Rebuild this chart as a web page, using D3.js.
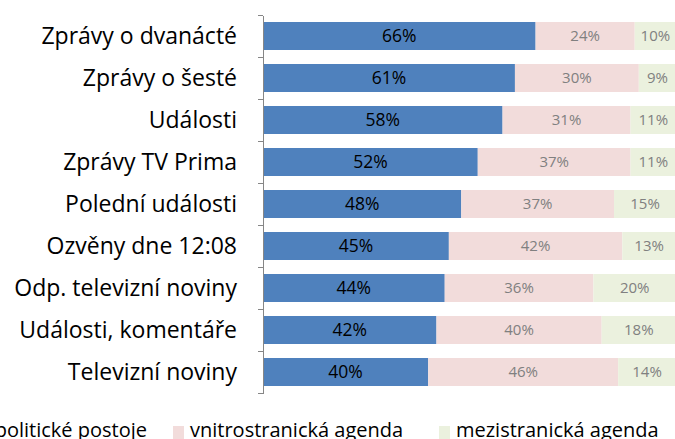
<!DOCTYPE html>
<html>
<head>
  <meta charset="utf-8">
  <script src="https://d3js.org/d3.v7.min.js"></script>
  <style>
    body { margin: 0; background: #fff; }
    svg { display: block; font-family: "Open Sans", sans-serif; }
    .axis path, .axis line { stroke: #868686; stroke-width: 1px; shape-rendering: crispEdges; }
  </style>
</head>
<body>
<div id="chart"></div>
<script>
// categories top to bottom
var categories = ["Zprávy o dvanácté", "Zprávy o šesté", "Události", "Zprávy TV Prima",
  "Polední události", "Ozvěny dne 12:08", "Odp. televizní noviny", "Události, komentáře", "Televizní noviny"];
var politicke = [66, 61, 58, 52, 48, 45, 44, 42, 40];
var vnitro = [24, 30, 31, 37, 37, 42, 36, 40, 46];
var mezi = [10, 9, 11, 11, 15, 13, 20, 18, 14];
var seriesNames = ["politické postoje", "vnitrostranická agenda", "mezistranická agenda"];
var colors = ["#4F81BD", "#F2DCDB", "#EBF1DE"];
var labelColors = ["#000000", "#808080", "#808080"];

var width = 675, height = 439;

var svg = d3.select("#chart").append("svg")
  .attr("width", width)
  .attr("height", height);

var y = d3.scaleBand().domain(categories).range([15, 393])
  .paddingInner(1/3).paddingOuter(1/6);
var x = d3.scaleLinear().domain([0, 100]).range([263, 676]);

// stacked rows
var rows = categories.map(function(c, i) {
  return { cat: c, p: politicke[i], v: vnitro[i], m: mezi[i] };
});
var stack = d3.stack().keys(["p", "v", "m"])(rows);

stack.forEach(function(layer, k) {
  var g = svg.append("g");
  g.selectAll("rect")
    .data(layer)
    .enter().append("rect")
      .attr("x", function(d) { return x(d[0]); })
      .attr("y", function(d) { return y(d.data.cat); })
      .attr("width", function(d) { return x(d[1]) - x(d[0]); })
      .attr("height", y.bandwidth())
      .attr("fill", colors[k]);
  g.selectAll("text")
    .data(layer)
    .enter().append("text")
      .attr("x", function(d) { return (x(d[0]) + x(d[1])) / 2; })
      .attr("y", function(d) { return y(d.data.cat) + y.bandwidth() / 2; })
      .attr("dy", "0.36em")
      .attr("text-anchor", "middle")
      .style("font-size", k == 0 ? "17.5px" : "15px")
      .attr("fill", labelColors[k])
      .text(function(d) { return (d[1] - d[0]) + "%"; });
});

// axis with ticks between categories
var yIdx = d3.scaleLinear().domain([0, categories.length]).range([15, 393]);
svg.append("g")
  .attr("class", "axis")
  .attr("transform", "translate(262.5,0)")
  .call(d3.axisLeft(yIdx).tickValues(d3.range(categories.length + 1)).tickFormat("").tickSizeInner(5).tickSizeOuter(0));

// category labels
svg.append("g").selectAll("text")
  .data(categories)
  .enter().append("text")
    .attr("x", 237)
    .attr("y", function(d) { return y(d) + y.bandwidth() / 2; })
    .attr("dy", "0.36em")
    .attr("text-anchor", "end")
    .style("font-size", "23px")
    .attr("fill", "#000")
    .text(function(d) { return d; });

// legend (first item runs off the left edge)
var legendEnd = [147, null, null];
var legendX = [0, 190, 456];
var legend = svg.append("g").selectAll("g")
  .data(seriesNames)
  .enter().append("g");
legend.append("text")
  .attr("x", 0).attr("y", 430)
  .attr("dy", "0.36em")
  .style("font-size", "20px")
  .attr("fill", "#000")
  .text(function(d) { return d; });
legend.append("rect")
  .attr("x", -17).attr("y", 426)
  .attr("width", 11).attr("height", 13)
  .attr("fill", function(d, i) { return colors[i]; });
legend.attr("transform", function(d, i) {
  var tx = legendX[i];
  if (legendEnd[i] != null) tx = legendEnd[i] - d3.select(this).select("text").node().getComputedTextLength();
  return "translate(" + tx + ",0)";
});
</script>
</body>
</html>
